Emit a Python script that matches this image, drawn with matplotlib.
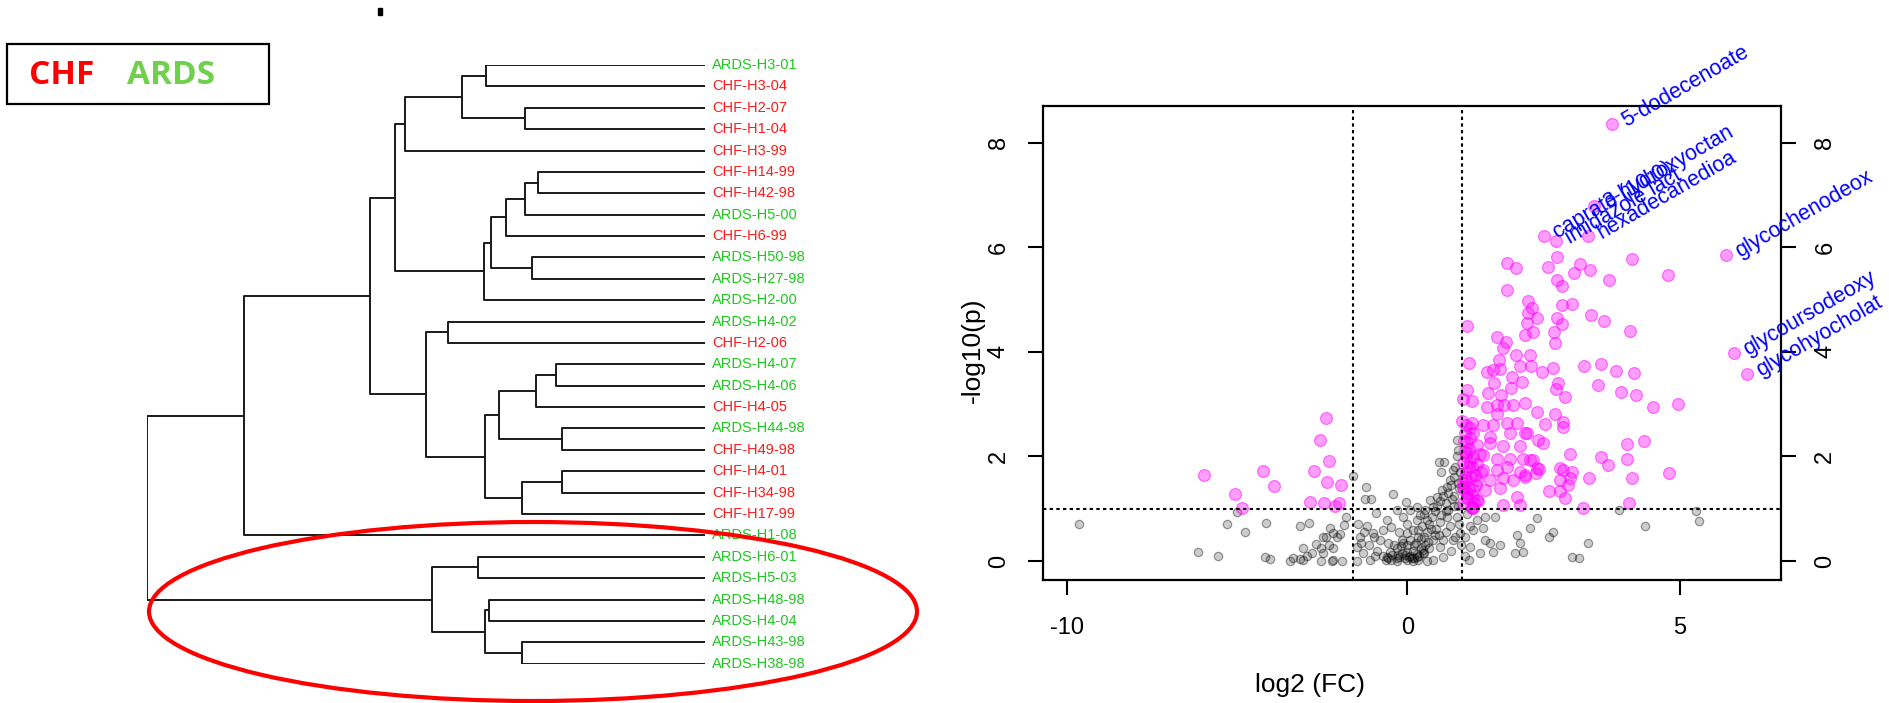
import matplotlib
matplotlib.use('Agg')
import matplotlib.pyplot as plt
import numpy as np
from matplotlib.patches import Ellipse, Rectangle

plt.rcParams['font.family'] = ['Liberation Sans', 'DejaVu Sans']

# ---- clustering of samples (leaf order top to bottom) ----
samples = ['ARDS-H3-01', 'CHF-H3-04', 'CHF-H2-07', 'CHF-H1-04', 'CHF-H3-99',
           'CHF-H14-99', 'CHF-H42-98', 'ARDS-H5-00', 'CHF-H6-99', 'ARDS-H50-98',
           'ARDS-H27-98', 'ARDS-H2-00', 'ARDS-H4-02', 'CHF-H2-06', 'ARDS-H4-07',
           'ARDS-H4-06', 'CHF-H4-05', 'ARDS-H44-98', 'CHF-H49-98', 'CHF-H4-01',
           'CHF-H34-98', 'CHF-H17-99', 'ARDS-H1-08', 'ARDS-H6-01', 'ARDS-H5-03',
           'ARDS-H48-98', 'ARDS-H4-04', 'ARDS-H43-98', 'ARDS-H38-98']

# linkage rows (child a, child b, height); ids >= len(samples) point to earlier rows
merges = [
    (0, 1, 0.393), (2, 3, 0.322), (29, 30, 0.435), (31, 4, 0.538),
    (5, 6, 0.299), (33, 7, 0.322), (34, 8, 0.357), (9, 10, 0.311),
    (35, 36, 0.383), (37, 11, 0.396), (32, 38, 0.556), (12, 13, 0.461),
    (14, 15, 0.267), (41, 16, 0.303), (17, 18, 0.256), (42, 43, 0.369),
    (19, 20, 0.256), (45, 21, 0.328), (44, 46, 0.394), (40, 47, 0.500),
    (39, 48, 0.601), (49, 22, 0.827), (23, 24, 0.407), (25, 26, 0.388),
    (27, 28, 0.329), (52, 53, 0.394), (51, 54, 0.489), (50, 55, 1.000),
]

group_colors = {'CHF': '#ff1a1a', 'ARDS': '#1ec81e'}

# ---- volcano plot data: log2 fold change and -log10(p) ----
ns_fc = [-9.63, -5.88, -5.23, -4.95, -4.65, -4.41, -3.73, -3.76, -3.60, -2.97,
         -2.65, -2.56, -2.65, -2.39, -1.72, -1.85, -1.51, -1.41, -2.16, -2.56,
         -1.99, -1.62, -2.30, -1.93, -1.99, -1.67, -1.36, -1.28, -1.22, -1.62,
         -1.93, -1.62, -2.89, -0.99, -0.76, -0.78, -0.67, -0.27, -0.03, 0.58,
         0.67, 0.61, 0.90, 0.93, 0.84, 0.78, 0.72, 0.63, 0.54, 0.41,
         0.47, 0.32, 0.23, 0.35, 0.17, 0.26, 0.11, -0.01, 0.20, 0.05,
         -0.08, -0.20, -0.32, -0.01, -0.38, -0.20, -0.01, 0.17, 0.29, -0.50,
         -0.63, -0.75, -0.87, -0.93, -0.81, -0.69, -0.93, -0.57, -0.38, -0.20,
         -0.08, 0.05, 0.17, 0.47, 0.60, 0.66, 0.47, 0.35, 0.84, 0.96,
         0.78, 0.90, 0.72, 1.12, 1.15, 1.27, 1.42, 1.61, 1.39, 1.15,
         1.42, 1.51, 1.57, 1.33, 1.70, 2.00, 2.06, 2.12, 1.97, 2.25,
         2.37, 2.66, 2.60, 3.01, 3.15, 3.31, 3.88, 4.36, 5.29, 5.35,
         -0.45, -0.35, -0.28, -0.15, -0.10, -0.05, 0.05, 0.10, 0.12, 0.22,
         0.25, -0.25, -0.12, 0.00, 0.15, 0.30, 0.35, 0.40, 0.45, 0.50,
         0.55, 0.60, 0.65, 0.70, 0.75, 0.80, 0.85, 0.88, 0.90, 0.85,
         0.92, 0.95, 0.88, 0.70, 0.60, 0.50, 0.30, 0.40, -0.55, -0.60,
         -0.70, -0.80, -0.90, -0.45, -0.30, -0.15, -0.35, 0.20, 0.00, 0.30,
         0.95, 0.97, 0.80, 0.65, 0.98, 1.05, 1.10, 1.20, 1.05, -0.20,
         0.10, -0.40, 0.20, -0.05, 0.08, 0.18, 0.28, 0.38, 0.52, 0.62,
         0.74, 0.82, 0.58, 0.44, 0.33, 0.02, -0.18, -0.30, 0.12, 0.24,
         -0.62, -0.85, -1.75, -2.45, -0.10, 0.70, 0.86, 0.93]
ns_p = [0.70, 0.18, 0.09, 0.71, 0.94, 0.55, 0.72, 0.08, 0.04, 0.00,
        0.04, 0.02, 0.66, 0.73, 0.63, 0.45, 0.45, 0.52, 0.32, 0.24,
        0.24, 0.24, 0.15, 0.15, 0.00, 0.00, 0.00, 0.69, 0.85, 0.53,
        0.46, 0.02, 0.05, 1.63, 1.41, 1.19, 1.19, 1.29, 1.12, 1.89,
        1.89, 1.71, 2.31, 2.12, 1.74, 1.55, 1.42, 1.36, 1.23, 1.17,
        1.04, 0.98, 0.88, 0.78, 0.78, 0.66, 0.59, 0.53, 0.46, 0.40,
        0.34, 0.24, 0.18, 0.18, 0.08, 0.05, 0.02, 0.08, 0.15, 0.40,
        0.53, 0.66, 0.46, 0.27, 0.15, 0.02, 0.00, 0.91, 0.78, 0.98,
        0.85, 0.98, 1.04, 0.40, 0.27, 0.08, 0.02, 0.00, 0.40, 0.53,
        0.66, 0.85, 0.85, 0.02, 0.27, 0.78, 0.85, 0.84, 0.63, 0.66,
        0.40, 0.34, 0.18, 0.15, 0.31, 0.50, 0.34, 0.18, 0.15, 0.63,
        0.82, 0.55, 0.46, 0.08, 0.05, 0.34, 0.98, 0.67, 0.96, 0.77,
        0.10, 0.05, 0.12, 0.08, 0.15, 0.05, 0.10, 0.20, 0.05, 0.10,
        0.25, 0.30, 0.28, 0.30, 0.35, 0.45, 0.55, 0.70, 0.85, 0.95,
        1.05, 1.15, 1.25, 1.10, 1.30, 1.45, 1.60, 1.80, 2.00, 1.25,
        1.05, 0.70, 0.45, 0.55, 0.75, 0.50, 0.15, 0.25, 0.20, 0.10,
        0.30, 0.55, 0.70, 0.60, 0.65, 0.55, 0.35, 0.60, 0.70, 0.90,
        1.40, 1.70, 0.20, 0.40, 0.30, 0.45, 0.90, 0.60, 0.10, 0.00,
        0.00, 0.02, 0.02, 0.12, 0.06, 0.14, 0.22, 0.36, 0.62, 0.88,
        0.98, 1.18, 0.50, 0.62, 0.30, 0.08, 0.12, 0.02, 0.30, 0.42,
        0.45, 0.35, 0.30, 0.10, 0.40, 0.95, 1.05, 1.50]

sig_fc = [2.74, 1.82, 1.99, 2.57, 3.17, 3.06, 3.34, 4.12, 4.78, 3.70,
          1.83, 2.74, 2.83, 2.21, 3.02, 2.83, 1.09, 3.36, 3.60, 4.08,
          2.28, 2.21, 2.37, 2.20, 2.30, 2.16, 2.74, 2.84, 2.69, 2.71,
          1.64, 1.80, 1.76, 1.99, 2.25, 2.06, 2.26, 1.12, 1.67, 1.46,
          1.57, 1.70, 1.92, 2.10, 1.59, 1.89, 1.09, 1.48, 1.71, 1.02,
          1.18, 2.16, 1.45, 1.77, 1.94, 2.37, 1.64, 3.23, 3.54, 3.82,
          4.15, 3.50, 3.91, 4.19, 4.50, 4.96, 2.46, 2.66, 2.76, 2.72,
          2.88, 2.71, 2.52, 2.85, 2.85, 2.40, 2.49, 2.98, 3.54, 3.68,
          4.02, 4.33, 4.02, 2.25, 2.41, 2.35, 2.16, 2.79, 2.85, 3.01,
          2.98, 2.80, 2.94, 2.60, 2.80, 2.89, 3.32, 4.11, 4.80, 4.06,
          3.21, 2.16, 1.00, 1.18, 1.64, 1.39, 1.57, 1.82, 2.00, 1.21,
          1.51, 1.88, 2.19, 1.09, 1.27, 1.51, 1.76, 2.06, 1.09, 1.21,
          1.39, 1.64, 1.88, 2.12, 2.31, 1.02, 1.18, 1.39, 1.64, 1.82,
          2.06, 2.37, 1.06, 1.27, 1.51, 1.76, 1.94, 2.16, 1.02, 1.21,
          1.42, 1.70, 1.09, 1.27, 2.00, 1.02, 1.18, 1.76, 2.06, 1.21,
          1.05, 1.12, 1.15, 1.08, 1.25, 1.10, 1.30, 1.14, 1.33, 1.35,
          1.05, 1.20, 1.03, 1.08, 1.13, 1.17, 1.04, 1.10, 1.22, 1.06,
          1.15, 1.28, 1.01, 1.12, 1.19, 1.07, 1.24,
          -1.85, -2.05, -1.76, -2.23, -1.83, -1.38, -2.35, -1.91, -1.44, -1.57,
          -5.67, -4.72, -4.48, -3.84, -3.49]
sig_p = [5.81, 5.69, 5.60, 5.62, 5.68, 5.51, 5.56, 5.77, 5.47, 5.37,
         5.19, 5.37, 5.26, 4.98, 4.91, 4.89, 4.50, 4.70, 4.58, 4.40,
         4.83, 4.75, 4.64, 4.56, 4.38, 4.32, 4.64, 4.54, 4.37, 4.17,
         4.29, 4.19, 4.07, 3.94, 3.94, 3.72, 3.72, 3.78, 3.84, 3.62,
         3.65, 3.67, 3.52, 3.43, 3.41, 3.30, 3.27, 3.22, 3.17, 3.09,
         3.05, 3.02, 2.94, 2.98, 2.98, 2.84, 2.82, 3.73, 3.76, 3.64,
         3.59, 3.37, 3.23, 3.17, 2.94, 3.00, 3.61, 3.70, 3.40, 3.28,
         3.14, 2.82, 2.62, 2.66, 2.56, 2.31, 2.25, 2.04, 1.99, 1.84,
         2.23, 2.29, 1.96, 1.94, 1.75, 1.68, 1.64, 1.77, 1.74, 1.71,
         1.58, 1.55, 1.45, 1.33, 1.33, 1.20, 1.59, 1.59, 1.68, 1.11,
         1.01, 2.44, 2.67, 2.63, 2.98, 2.60, 2.60, 2.63, 2.63, 2.44,
         2.38, 2.44, 2.44, 2.28, 2.22, 2.25, 2.19, 2.19, 2.06, 1.99,
         2.03, 1.96, 1.96, 1.96, 1.93, 1.87, 1.80, 1.74, 1.74, 1.80,
         1.71, 1.77, 1.61, 1.55, 1.55, 1.58, 1.55, 1.61, 1.42, 1.36,
         1.36, 1.39, 1.23, 1.17, 1.23, 1.10, 1.04, 1.07, 1.07, 1.01,
         2.45, 2.15, 1.90, 1.70, 1.45, 1.30, 1.15, 2.55, 2.05, 1.70,
         1.55, 1.25, 2.30, 2.00, 1.80, 1.60, 1.35, 1.20, 1.10, 2.10,
         2.35, 1.85, 1.50, 1.40, 1.02, 2.60, 1.65,
         2.74, 2.31, 1.92, 1.72, 1.52, 1.45, 1.13, 1.11, 1.11, 1.06,
         1.64, 1.29, 1.01, 1.73, 1.43]

hit_names = ['5-dodecenoate', 'caprate (10:0)', '3-hydroxyoctan', 'imidazole lact',
             'hexadecanedioa', 'glycochenodeox', 'glycoursodeoxy', 'glycohyocholat']
hit_fc = [3.75, 2.50, 3.42, 2.72, 3.31, 5.84, 5.99, 6.23]
hit_p = [8.36, 6.22, 6.79, 6.11, 6.21, 5.86, 3.97, 3.57]

fc_cut = 1.0
p_cut = 1.0

W, H = 1889, 703
fig = plt.figure(figsize=(W / 100, H / 100), dpi=100)


def px_rect(x0, y0, x1, y1):
    # pixel box measured from the top-left corner -> figure fraction
    return [x0 / W, 1 - y1 / H, (x1 - x0) / W, (y1 - y0) / H]


# ---------------- dendrogram ----------------
ax_d = fig.add_axes(px_rect(147.4, 65, 705, 663.7))
n = len(samples)
ypos = {i: float(i) for i in range(n)}
hgt = {i: 0.0 for i in range(n)}
for k, (a, b, h) in enumerate(merges):
    ax_d.plot([hgt[a], h, h, hgt[b]], [ypos[a], ypos[a], ypos[b], ypos[b]],
              color='#1a1a1a', lw=1.4, solid_capstyle='butt')
    ypos[n + k] = (ypos[a] + ypos[b]) / 2
    hgt[n + k] = h

for i, name in enumerate(samples):
    ax_d.text(-0.0125, i, name, color=group_colors[name.split('-')[0]],
              fontsize=10.5, ha='left', va='center', clip_on=False)
ax_d.set_xlim(1.0, 0.0)
ax_d.set_ylim(n - 1, 0)
ax_d.axis('off')

# group key
fig.add_artist(Rectangle((7 / W, 1 - 104 / H), 262 / W, 60 / H, fill=False,
                         lw=1.6, edgecolor='black', transform=fig.transFigure))
fig.text(29 / W, 1 - 75 / H, 'CHF', color='#ff0000', fontsize=24,
         fontweight='bold', family='Open Sans', ha='left', va='center')
fig.text(127 / W, 1 - 75 / H, 'ARDS', color='#6fd04c', fontsize=24,
         fontweight='bold', family='Open Sans', ha='left', va='center')
fig.add_artist(Rectangle((378 / W, 1 - 15 / H), 4 / W, 7 / H, color='black',
                         transform=fig.transFigure))

# highlight ring around the ARDS-only cluster
fig.add_artist(Ellipse((533 / W, 1 - 611.5 / H), 768 / W, 179 / H, fill=False,
                       edgecolor='#ff0000', lw=3, transform=fig.transFigure,
                       zorder=10))

# ---------------- volcano plot ----------------
ax_v = fig.add_axes(px_rect(1043, 106, 1781, 580))

k_left = 0.583


def fwd(x):
    x = np.asarray(x, dtype=float)
    return np.where(x >= -1, x, -1 + (x + 1) * k_left)


def inv(u):
    u = np.asarray(u, dtype=float)
    return np.where(u >= -1, u, -1 + (u + 1) / k_left)


ax_v.set_xscale('function', functions=(fwd, inv))

ax_v.scatter(ns_fc, ns_p, s=36, facecolor=(0, 0, 0, 0.2),
             edgecolor=(0, 0, 0, 0.38), lw=0.9, zorder=2)
ax_v.scatter(sig_fc + hit_fc, sig_p + hit_p, s=72, facecolor=(1, 0, 1, 0.38),
             edgecolor=(1, 0, 1, 0.5), lw=0.9, zorder=3)

for name, x, y in zip(hit_names, hit_fc, hit_p):
    ax_v.annotate(name, (x, y), xytext=(10, -2), textcoords='offset points',
                  rotation=30, rotation_mode='anchor', ha='left', va='baseline',
                  color='#0000ff', fontsize=15.5, annotation_clip=False, zorder=5)

for xv in (-fc_cut, fc_cut):
    ax_v.axvline(xv, color='black', lw=1.5, ls=(0, (1.6, 1.6)), zorder=4)
ax_v.axhline(p_cut, color='black', lw=1.5, ls=(0, (1.6, 1.6)), zorder=4)

ax_v.set_xlim(-10.75, 6.85)
ax_v.set_ylim(-0.363, 8.70)
ax_v.set_xticks([-10, 0, 5])
ax_v.set_xticklabels(['-10', '0', '5'])
ax_v.set_yticks([0, 2, 4, 6, 8])
ax_v.minorticks_off()
ax_v.tick_params(axis='both', direction='out', length=11, width=1.5,
                 labelsize=17)
ax_v.tick_params(axis='x', pad=16)
ax_v.tick_params(axis='y', right=True, labelright=True, labelrotation=90, pad=13)
for lab in ax_v.get_yticklabels():
    lab.set_va('center')
for spine in ax_v.spines.values():
    spine.set_linewidth(1.6)

fig.text(973 / W, 1 - 350 / H, '-log10(p)', rotation=90, ha='center',
         va='center', fontsize=19)
fig.text(1310 / W, 1 - 685 / H, 'log2 (FC)', ha='center', va='center',
         fontsize=19)

fig.savefig('out.png', dpi=100)
